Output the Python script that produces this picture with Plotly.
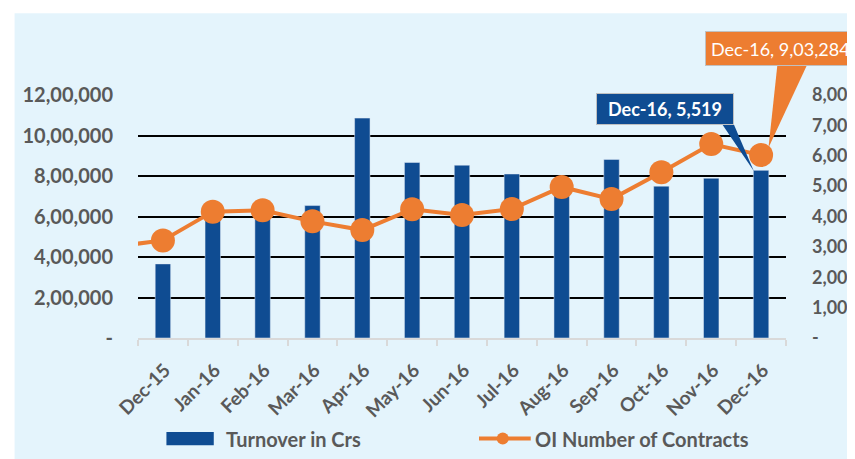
import plotly.graph_objects as go

months = ["Dec-15", "Jan-16", "Feb-16", "Mar-16", "Apr-16", "May-16", "Jun-16",
          "Jul-16", "Aug-16", "Sep-16", "Oct-16", "Nov-16", "Dec-16"]
turnover_crs = [2440, 4100, 4150, 4360, 7240, 5780, 5690, 5400, 4900, 5880, 5000, 5260, 5519]
oi_contracts = [482000, 624000, 631000, 576000, 533000, 636000, 607000, 637000,
                746000, 686000, 818000, 958000, 903284]
prev_month_oi = 450000  # Nov-15, line enters from the left edge

left_ticks = [0, 200000, 400000, 600000, 800000, 1000000, 1200000]
left_ticktext = ["-", "2,00,000", "4,00,000", "6,00,000", "8,00,000", "10,00,000", "12,00,000"]
right_ticks = [0, 1000, 2000, 3000, 4000, 5000, 6000, 7000, 8000]
right_ticktext = ["-", "1,000", "2,000", "3,000", "4,000", "5,000", "6,000", "7,000", "8,000"]

BLUE = "#0F4C92"
ORANGE = "#ED7D31"
GREY = "#595959"
BG = "#E4F4FC"
FONT = "Lato"

LEFT_MAX = 1200000
RIGHT_MAX = 8000

xs = list(range(len(months)))
n = len(months)

# page has an 8px body margin; figure is sized to fill the rest of the 855x459 window
PAGE_OFF = 8
FIG_W, FIG_H = 855 - PAGE_OFF, 459 - PAGE_OFF
PLOT_L, PLOT_R, PLOT_T, PLOT_B = 138.3, 785.7, 94.7, 337.7  # page pixels

fig = go.Figure()
fig.add_trace(go.Bar(x=xs, y=turnover_crs, yaxis="y", marker=dict(color=BLUE),
                     name="Turnover in Crs", showlegend=False))
fig.add_trace(go.Scatter(x=[-1] + xs, y=[prev_month_oi] + oi_contracts, yaxis="y2",
                         mode="lines+markers", line=dict(color=ORANGE, width=4),
                         marker=dict(color=ORANGE, size=24),
                         name="OI Number of Contracts", showlegend=False))

# Callouts
last = n - 1
fig.add_annotation(x=last, y=oi_contracts[-1], xref="x", yref="y2",
                   text=f"{months[-1]}, 9,03,284", showarrow=True,
                   arrowcolor="rgba(0,0,0,0)", ax=19, ay=-107,
                   font=dict(family=FONT, size=18, color="white"),
                   bgcolor=ORANGE, bordercolor="#C0C0C0", borderwidth=1, borderpad=5,
                   height=23)
fig.add_annotation(x=last, y=turnover_crs[-1], xref="x", yref="y",
                   text=f"<b>{months[-1]}, 5,519</b>", showarrow=True,
                   arrowcolor="rgba(0,0,0,0)", ax=-96.5, ay=-61,
                   font=dict(family=FONT, size=18, color="white"),
                   bgcolor=BLUE, bordercolor="#C0C0C0", borderwidth=1, borderpad=4,
                   width=128, height=22)

# helpers: page pixel -> paper for layout decorations
def px(xp):
    return (xp - PLOT_L) / (PLOT_R - PLOT_L)
def py(yp):
    return (PLOT_B - yp) / (PLOT_B - PLOT_T)

shapes = []
# background panel
shapes.append(dict(type="rect", xref="paper", yref="paper",
                   x0=px(15), x1=px(900), y0=py(500), y1=py(13),
                   fillcolor=BG, line=dict(width=0), layer="below"))
# wedge pointers (pixel offsets from anchor; y up-positive), anchored via data -> paper
anchor_x = (last + 0.5) / n
shapes.append(dict(type="path", xref="paper", yref="paper", xsizemode="pixel", ysizemode="pixel",
                   xanchor=anchor_x, yanchor=oi_contracts[-1] / LEFT_MAX,
                   path="M 7.4 7.3 L 16.4 91 L 46.4 91 Z",
                   fillcolor=ORANGE, line=dict(width=0), layer="above"))
shapes.append(dict(type="path", xref="paper", yref="paper", xsizemode="pixel", ysizemode="pixel",
                   xanchor=anchor_x, yanchor=turnover_crs[-1] / RIGHT_MAX,
                   path="M -7.3 -0.7 L -38.9 46 L -27.3 46 Z",
                   fillcolor=BLUE, line=dict(width=0), layer="above"))

# custom legend
shapes.append(dict(type="rect", xref="paper", yref="paper",
                   x0=px(166.7), x1=px(214), y0=py(445), y1=py(431.7),
                   fillcolor=BLUE, line=dict(width=0)))
shapes.append(dict(type="line", xref="paper", yref="paper",
                   x0=px(479), x1=px(530.7), y0=py(438.3), y1=py(438.3),
                   line=dict(color=ORANGE, width=4)))
shapes.append(dict(type="circle", xref="paper", yref="paper",
                   x0=px(496.7), x1=px(508.7), y0=py(444.3), y1=py(432.3),
                   fillcolor=ORANGE, line=dict(width=0)))
fig.add_annotation(x=px(224), y=py(438.3), xref="paper", yref="paper", xanchor="left",
                   yanchor="middle", showarrow=False, text="<b>Turnover in Crs</b>",
                   font=dict(family=FONT, size=20, color=GREY))
fig.add_annotation(x=px(533), y=py(438.3), xref="paper", yref="paper", xanchor="left",
                   yanchor="middle", showarrow=False, text="<b>OI Number of Contracts</b>",
                   font=dict(family=FONT, size=20, color=GREY))

fig.update_layout(
    width=FIG_W, height=FIG_H,
    margin=dict(l=PLOT_L - PAGE_OFF, r=855 - PLOT_R, t=PLOT_T - PAGE_OFF, b=459 - PLOT_B,
                autoexpand=False),
    paper_bgcolor="white", plot_bgcolor="rgba(0,0,0,0)",
    bargap=0.69, showlegend=False,
    font=dict(family=FONT, color=GREY),
    shapes=shapes,
    xaxis=dict(range=[-0.5, n - 0.5], tickmode="array", tickvals=xs, automargin=False,
               ticktext=months, tickangle=-45, ticks="", showgrid=False, zeroline=False,
               showline=True, linecolor="#D9D9D9", linewidth=1.5,
               ticklabelstandoff=12, ticklabelshift=2,
               tickfont=dict(family=FONT, size=19, color=GREY, weight="bold"),
               minor=dict(tickmode="array", tickvals=[i - 0.5 for i in range(n + 1)],
                          ticks="outside", ticklen=6, tickcolor="#D9D9D9", tickwidth=1.5,
                          showgrid=False)),
    yaxis=dict(side="right", range=[0, RIGHT_MAX], tickmode="array", tickvals=right_ticks,
               ticktext=right_ticktext, showgrid=False, zeroline=False, automargin=False,
               ticklabelstandoff=25,
               tickfont=dict(family=FONT, size=18, color=GREY, weight="bold")),
    yaxis2=dict(side="left", overlaying="y", range=[0, LEFT_MAX], tickmode="array",
                tickvals=left_ticks, ticktext=left_ticktext, showgrid=True, automargin=False,
                gridcolor="black", gridwidth=1.8, zeroline=True, zerolinecolor="#D9D9D9",
                zerolinewidth=1.5, ticklabelstandoff=24,
                tickfont=dict(family=FONT, size=20, color=GREY, weight="bold")),
)

fig.write_html("out.html",
               post_script="document.documentElement.style.overflow='hidden';"
                           "document.body.style.overflow='hidden';")
